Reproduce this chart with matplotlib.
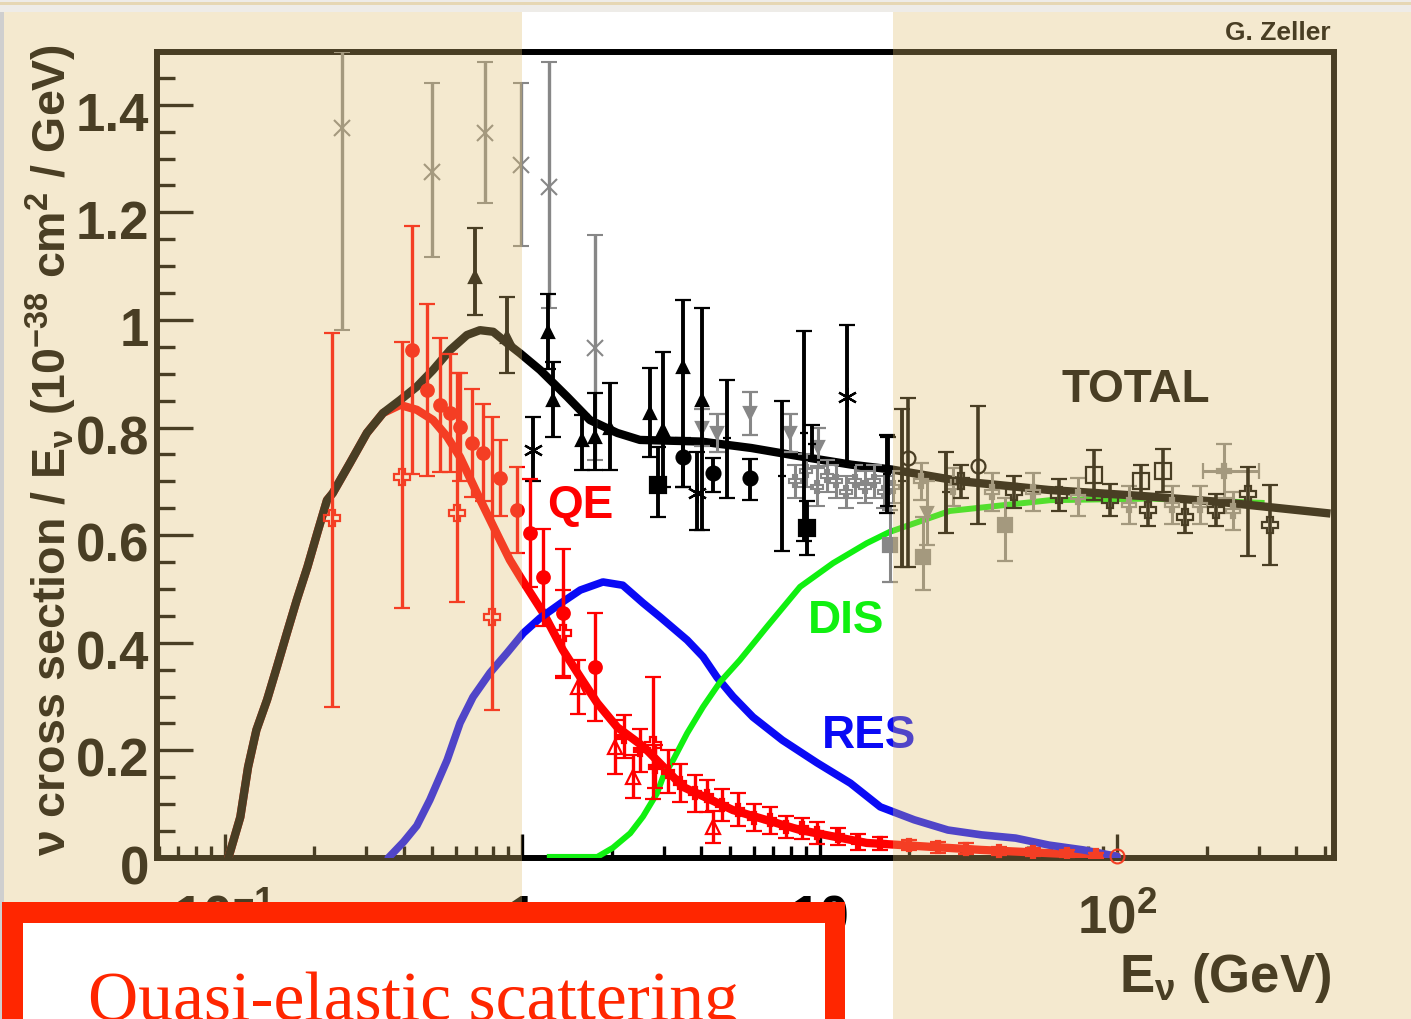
import numpy as np
import matplotlib.pyplot as plt
from matplotlib.patches import Rectangle
from matplotlib.ticker import FixedLocator, LogLocator, MultipleLocator, NullFormatter
from matplotlib.transforms import blended_transform_factory, offset_copy

W, H = 1411, 1019

# model curves (E in GeV, cross section / E in 1e-38 cm^2/GeV)
total_e = [0.103, 0.113, 0.120, 0.128, 0.139, 0.150, 0.162, 0.175, 0.19, 0.205, 0.221, 0.231,
           0.264, 0.301, 0.341, 0.389, 0.443, 0.502, 0.573, 0.653, 0.722, 0.80, 0.89, 0.985,
           1.15, 1.42, 1.69, 2.09, 2.49, 4.0, 5.9, 8.7, 12.8, 17.5, 30, 59, 120, 220, 505]
total_v = [0.0, 0.076, 0.169, 0.238, 0.294, 0.355, 0.418, 0.48, 0.541, 0.604, 0.665, 0.678,
           0.734, 0.79, 0.827, 0.851, 0.876, 0.907, 0.944, 0.972, 0.981, 0.978, 0.957, 0.938,
           0.907, 0.857, 0.814, 0.79, 0.777, 0.774, 0.762, 0.746, 0.731, 0.722, 0.70, 0.684,
           0.673, 0.662, 0.641]

qe_e = [0.103, 0.113, 0.120, 0.128, 0.139, 0.150, 0.162, 0.175, 0.19, 0.205, 0.221, 0.231,
        0.264, 0.301, 0.341, 0.389, 0.443, 0.502, 0.56, 0.619, 0.706, 0.843, 0.91, 1.0, 1.18,
        1.37, 1.57, 1.79, 2.09, 2.56, 3.48, 5.12, 8.6, 14.4, 35, 100]
qe_v = [0.0, 0.076, 0.169, 0.238, 0.294, 0.355, 0.418, 0.48, 0.541, 0.604, 0.665, 0.678,
        0.734, 0.79, 0.827, 0.842, 0.833, 0.814, 0.783, 0.745, 0.678, 0.591, 0.554, 0.517, 0.455,
        0.387, 0.336, 0.288, 0.243, 0.207, 0.132, 0.089, 0.052, 0.028, 0.015, 0.003]

res_e = [0.355, 0.40, 0.443, 0.49, 0.56, 0.619, 0.684, 0.78, 0.89, 1.01, 1.15, 1.37, 1.57,
         1.87, 2.18, 2.55, 2.91, 3.59, 4.06, 4.52, 5.12, 5.97, 7.5, 9.8, 12.7, 16.0, 20.8, 27,
         35, 45.6, 59, 77, 100]
res_v = [0.0, 0.03, 0.06, 0.108, 0.182, 0.251, 0.299, 0.344, 0.381, 0.418, 0.446, 0.476, 0.498,
         0.513, 0.507, 0.474, 0.448, 0.405, 0.374, 0.336, 0.30, 0.262, 0.219, 0.177, 0.139, 0.095,
         0.071, 0.052, 0.043, 0.037, 0.024, 0.015, 0.003]

dis_e = [1.24, 1.79, 2.02, 2.31, 2.55, 2.84, 2.98, 3.22, 3.59, 4.06, 4.63, 5.40, 6.66, 8.6, 11.1,
         14.4, 17.2, 27.4, 59.5, 129, 306]
dis_v = [0.002, 0.002, 0.019, 0.046, 0.077, 0.12, 0.151, 0.182, 0.232, 0.281, 0.327, 0.368, 0.43,
         0.504, 0.548, 0.585, 0.606, 0.645, 0.665, 0.668, 0.66]

# low energy gray points (x markers)
gx_e = [0.248, 0.498, 0.751, 0.99, 1.23, 1.76]
gx_v = [1.357, 1.275, 1.348, 1.288, 1.247, 0.948]
gx_lo = [0.376, 0.158, 0.131, 0.151, 0.225, 0.208]
gx_hi = [0.141, 0.165, 0.132, 0.152, 0.233, 0.21]

# black triangles
bt_e = [0.695, 0.89, 1.22, 1.27, 1.59, 1.76, 1.98, 2.69, 2.98, 3.48, 4.03]
bt_v = [1.08, 0.968, 0.978, 0.851, 0.777, 0.783, 0.80, 0.827, 0.796, 0.913, 0.851]
bt_lo = [0.071, 0.067, 0.07, 0.068, 0.056, 0.062, 0.079, 0.082, 0.106, 0.223, 0.241]
bt_hi = [0.091, 0.075, 0.07, 0.071, 0.046, 0.081, 0.083, 0.084, 0.144, 0.124, 0.171]

# black stars
bs_e = [1.09, 3.88, 12.4]
bs_v = [0.758, 0.678, 0.857]
bs_lo = [0.058, 0.068, 0.127]
bs_hi = [0.062, 0.077, 0.133]

# black circles
bc_e = [3.48, 4.39, 5.84]
bc_v = [0.745, 0.716, 0.706]
bc_lo = [0.055, 0.036, 0.04]
bc_hi = [0.036, 0.027, 0.035]

# black squares
bq_e = [2.87, 9.05]
bq_v = [0.693, 0.613]
bq_lo = [0.06, 0.05]
bq_hi = [0.07, 0.05]

# black bars with the marker hidden under the curve
bb_e = [4.89, 7.48, 8.9, 9.4, 16.8, 17.0, 18.9, 26.6]
bb_v = [0.78, 0.71, 0.79, 0.77, 0.714, 0.72, 0.70, 0.68]
bb_lo = [0.11, 0.14, 0.2, 0.03, 0.073, 0.066, 0.16, 0.076]
bb_hi = [0.108, 0.14, 0.19, 0.035, 0.072, 0.063, 0.135, 0.075]

# gray down triangles
gd_e = [4.03, 4.52, 5.84, 7.95, 9.87, 23.0]
gd_v = [0.80, 0.79, 0.827, 0.79, 0.764, 0.641]
gd_err = [0.035, 0.035, 0.04, 0.035, 0.035, 0.06]

# gray crosses, 8-18 GeV cluster
gc_e = [8.3, 9.0, 9.8, 10.6, 11.4, 12.3, 13.2, 14.2, 15.3, 16.5, 17.6]
gc_v = [0.70, 0.72, 0.69, 0.71, 0.70, 0.68, 0.70, 0.69, 0.70, 0.68, 0.69]
gc_err = [0.03, 0.03, 0.035, 0.03, 0.03, 0.03, 0.03, 0.03, 0.03, 0.03, 0.03]

# gray filled squares
gs_e = [17.3, 22.2, 42]
gs_v = [0.582, 0.559, 0.619]
gs_lo = [0.069, 0.061, 0.067]
gs_hi = [0.065, 0.075, 0.05]

# high energy black points
ho_e = [19.8, 34]
ho_v = [0.744, 0.729]
ho_lo = [0.203, 0.109]
ho_hi = [0.111, 0.111]

hsq_e = [83.7, 120, 143]
hsq_v = [0.712, 0.70, 0.72]
hsq_err = [0.046, 0.03, 0.04]

hc_e = [30, 45, 64, 95, 127, 169, 215, 275, 326]
hc_v = [0.70, 0.68, 0.675, 0.665, 0.647, 0.634, 0.647, 0.676, 0.619]
hc_lo = [0.03, 0.03, 0.03, 0.03, 0.03, 0.03, 0.03, 0.114, 0.074]
hc_hi = [0.03, 0.03, 0.03, 0.03, 0.03, 0.03, 0.03, 0.051, 0.074]

# high energy gray crosses
gh_e = [22, 28, 38, 52, 74, 110, 153, 190, 245]
gh_v = [0.70, 0.69, 0.68, 0.68, 0.671, 0.656, 0.656, 0.656, 0.645]
gh_err = [0.035, 0.035, 0.035, 0.035, 0.035, 0.035, 0.035, 0.035, 0.035]

gw_e = [228]
gw_v = [0.719]
gw_xlo = [33]
gw_xhi = [72]
gw_err = [0.05]

# QE data (red)
rc_e = [0.427, 0.48, 0.53, 0.573, 0.619, 0.679, 0.740, 0.843, 0.96, 1.06, 1.18, 1.37, 1.76]
rc_v = [0.944, 0.87, 0.842, 0.827, 0.801, 0.771, 0.753, 0.706, 0.647, 0.604, 0.522, 0.455, 0.355]
rc_err = [0.23, 0.16, 0.125, 0.11, 0.10, 0.10, 0.09, 0.07, 0.08, 0.10, 0.09, 0.12, 0.10]

ro_e = [0.23, 0.395, 0.605, 0.79, 1.37, 2.76]
ro_v = [0.632, 0.708, 0.641, 0.448, 0.418, 0.21]
ro_lo = [0.351, 0.243, 0.165, 0.173, 0.08, 0.10]
ro_hi = [0.344, 0.251, 0.26, 0.372, 0.08, 0.126]

rt_e = [1.54, 2.05, 2.36, 4.39]
rt_v = [0.318, 0.206, 0.151, 0.058]
rt_err = [0.05, 0.05, 0.04, 0.03]

rd_e = [2.2, 2.5, 2.8, 3.1, 3.4, 3.8, 4.2, 4.7, 5.3, 6.0, 6.8, 7.7, 8.7, 9.8, 11.5, 13.5, 16, 20,
        25, 31, 40, 52, 68, 85]
rd_v = [0.225, 0.20, 0.17, 0.16, 0.14, 0.12, 0.115, 0.098, 0.09, 0.075, 0.07, 0.058, 0.055, 0.046,
        0.04, 0.03, 0.027, 0.024, 0.02, 0.017, 0.013, 0.011, 0.008, 0.005]
rd_err = [0.04, 0.04, 0.04, 0.04, 0.035, 0.035, 0.03, 0.03, 0.03, 0.025, 0.025, 0.02, 0.02, 0.02,
          0.015, 0.015, 0.012, 0.01, 0.01, 0.01, 0.008, 0.008, 0.006, 0.005]

rend_e = [100]
rend_v = [0.003]

ytick_vals = [0, 0.2, 0.4, 0.6, 0.8, 1.0, 1.2, 1.4]
ytick_labels = ['0', '0.2', '0.4', '0.6', '0.8', '1', '1.2', '1.4']
xtick_vals = [0.1, 1, 10, 100]
xtick_labels = ['10$^{-1}$', '1', '10', '10$^{2}$']

BLACK = '#000000'
GRAY = '#878787'
RED = '#ff0000'
BLUE = '#0a0af5'
GREEN = '#10f010'

plt.rcParams['font.family'] = ['Liberation Sans', 'DejaVu Sans']
plt.rcParams['font.weight'] = 'bold'
plt.rcParams['mathtext.fontset'] = 'custom'
plt.rcParams['mathtext.rm'] = 'Liberation Sans:bold'
plt.rcParams['mathtext.bf'] = 'Liberation Sans:bold'
plt.rcParams['mathtext.it'] = 'Liberation Sans'
plt.rcParams['mathtext.default'] = 'it'

fig = plt.figure(figsize=(W / 100, H / 100), dpi=100, facecolor='white')
ax = fig.add_axes([157 / W, 1 - 858 / H, (1334 - 157) / W, (858 - 52) / H])
ax.set_facecolor('none')

ax.set_xscale('log')
ax.set_xlim(0.0593, 536)
ax.set_ylim(0, 1.498)

# curves
ax.plot(qe_e, qe_v, color=RED, lw=6, solid_joinstyle='round', solid_capstyle='round', zorder=3)
ax.plot(res_e, res_v, color=BLUE, lw=5.5, solid_joinstyle='round', solid_capstyle='round', zorder=3)
ax.plot(dis_e, dis_v, color=GREEN, lw=4.3, solid_joinstyle='round', zorder=3)
ax.plot(total_e, total_v, color=BLACK, lw=6, solid_joinstyle='round', zorder=4)


def points(x, y, yerr, marker, color, ms=8, mfc=None, mew=1.6, lw=2.2, z=5, xerr=None):
    ax.errorbar(x, y, yerr=yerr, xerr=xerr, fmt='', marker=marker, linestyle='none',
                color=color, ms=ms, mfc=color if mfc is None else mfc, mec=color, mew=mew,
                elinewidth=lw, capsize=6, capthick=lw, zorder=z)


points(gx_e, gx_v, [gx_lo, gx_hi], 'x', GRAY, ms=11, mew=1.5, lw=2.4)
points(gd_e, gd_v, gd_err, 'v', GRAY, ms=9)
points(gc_e, gc_v, gc_err, 'P', GRAY, ms=9, mfc='none', mew=1.5)
points(gs_e, gs_v, [gs_lo, gs_hi], 's', GRAY, ms=10)
points(gh_e, gh_v, gh_err, 'P', GRAY, ms=10, mfc='none', mew=1.6)
points(gw_e, gw_v, gw_err, 'P', GRAY, ms=10, mfc='none', xerr=[gw_xlo, gw_xhi])

points(bt_e, bt_v, [bt_lo, bt_hi], '^', BLACK, ms=9, lw=2.8, z=6)
points(bs_e, bs_v, [bs_lo, bs_hi], (6, 2, 0), BLACK, ms=14, mew=1.6, lw=2.8, z=6)
points(bc_e, bc_v, [bc_lo, bc_hi], 'o', BLACK, ms=10, lw=2.8, z=6)
points(bq_e, bq_v, [bq_lo, bq_hi], 's', BLACK, ms=11, lw=2.8, z=6)
points(bb_e, bb_v, [bb_lo, bb_hi], '_', BLACK, ms=6, lw=2.8, z=6)
points(ho_e, ho_v, [ho_lo, ho_hi], 'o', BLACK, ms=10, mfc='none', lw=2.6, z=6)
points(hsq_e, hsq_v, hsq_err, 's', BLACK, ms=11, mfc='none', lw=2.6, z=6)
points(hc_e, hc_v, [hc_lo, hc_hi], 'P', BLACK, ms=11, mfc='none', lw=2.6, z=6)

points(rc_e, rc_v, rc_err, 'o', RED, ms=9, lw=2.4, z=7)
points(ro_e, ro_v, [ro_lo, ro_hi], 'P', RED, ms=11, mfc='none', lw=2.4, z=7)
points(rt_e, rt_v, rt_err, '^', RED, ms=10, mfc='none', lw=2.4, z=7)
points(rd_e, rd_v, rd_err, 'P', RED, ms=8, lw=2.4, z=7)
ax.plot(rend_e, rend_v, 'o', ms=10, mfc='none', mec=RED, mew=1.5, zorder=7, clip_on=False)

# curve labels
ax.text(1.213, 0.632, 'QE', color=RED, fontsize=33, ha='left', va='baseline', zorder=8)
ax.text(9.15, 0.418, 'DIS', color=GREEN, fontsize=33, ha='left', va='baseline', zorder=8)
ax.text(10.2, 0.2045, 'RES', color=BLUE, fontsize=33, ha='left', va='baseline', zorder=8)
ax.text(64.8, 0.848, 'TOTAL', color=BLACK, fontsize=33, ha='left', va='baseline', zorder=8)

# axes frame and ticks
for s in ax.spines.values():
    s.set_linewidth(4.3)
    s.set_color(BLACK)
ax.xaxis.set_major_locator(FixedLocator(xtick_vals))
ax.xaxis.set_minor_locator(LogLocator(base=10, subs=np.arange(2, 10)))
ax.yaxis.set_major_locator(FixedLocator(ytick_vals))
ax.yaxis.set_minor_locator(MultipleLocator(0.05))
ax.xaxis.set_major_formatter(NullFormatter())
ax.xaxis.set_minor_formatter(NullFormatter())
ax.yaxis.set_major_formatter(NullFormatter())
ax.tick_params(axis='x', which='major', direction='in', length=17, width=2.4, color=BLACK)
ax.tick_params(axis='x', which='minor', direction='in', length=8.6, width=2.4, color=BLACK)
ax.tick_params(axis='y', which='major', direction='in', length=26, width=2.4, color=BLACK)
ax.tick_params(axis='y', which='minor', direction='in', length=13, width=2.4, color=BLACK)

ytrans = offset_copy(blended_transform_factory(ax.transAxes, ax.transData), fig=fig, x=-8, y=-7, units='dots')
for v, lab in zip(ytick_vals, ytick_labels):
    ax.text(0, v, lab, transform=ytrans, ha='right', va='center_baseline', fontsize=38,
            color=BLACK, clip_on=False)
xtrans = blended_transform_factory(ax.transData, fig.transFigure)
for v, lab in zip(xtick_vals, xtick_labels):
    ax.text(v, 1 - 933 / H, lab, transform=xtrans, ha='center', va='baseline', fontsize=38,
            color=BLACK, clip_on=False)

fig.text(51 / W, 1 - 450 / H, r'$\nu$ cross section / E$_{\nu}$ (10$^{-38}$ cm$^{2}$ / GeV)',
         rotation=90, ha='center', va='center', fontsize=33.5, color=BLACK)
fig.text(1331 / W, 1 - 992 / H, r'E$_{\nu}$ (GeV)', ha='right', va='baseline', fontsize=38,
         color=BLACK)
fig.text(1331 / W, 1 - 40 / H, 'G. Zeller', ha='right', va='baseline', fontsize=19, color=BLACK)

# tinted side panels of the slide
tan = (224 / 255, 190 / 255, 110 / 255)
top = (H - 12) / H
fig.add_artist(Rectangle((0, 0), 522 / W, top, transform=fig.transFigure, facecolor=tan,
                         edgecolor='none', alpha=0.33, zorder=50))
fig.add_artist(Rectangle((893 / W, 0), (W - 893) / W, top, transform=fig.transFigure,
                         facecolor=tan, edgecolor='none', alpha=0.33, zorder=50))
fig.add_artist(Rectangle((0, top), 1, 12 / H, transform=fig.transFigure, facecolor='#eeece8',
                         edgecolor='none', zorder=51))
fig.add_artist(Rectangle((0, 1 - 5 / H), 1, 3 / H, transform=fig.transFigure, facecolor='#e6d7b4',
                         edgecolor='none', zorder=52))
fig.add_artist(Rectangle((0, 0), 4 / W, top, transform=fig.transFigure, facecolor='#cfcfcf',
                         edgecolor='none', zorder=52))

# red callout box
box_red = '#ff2600'
fig.add_artist(Rectangle((2 / W, -0.05), (845 - 2) / W, 0.05 + (H - 902) / H,
                         transform=fig.transFigure, facecolor=box_red, edgecolor='none', zorder=60))
fig.add_artist(Rectangle((23 / W, -0.05), (825 - 23) / W, 0.05 + (H - 923) / H,
                         transform=fig.transFigure, facecolor='white', edgecolor='none', zorder=61))
fig.text(88 / W, 1 - 1020 / H, 'Quasi-elastic scattering', family=['Liberation Serif', 'DejaVu Serif'],
         fontweight='normal', fontsize=50, color=box_red, ha='left', va='baseline', zorder=62)

fig.savefig('out.png', dpi=100, facecolor='white')
